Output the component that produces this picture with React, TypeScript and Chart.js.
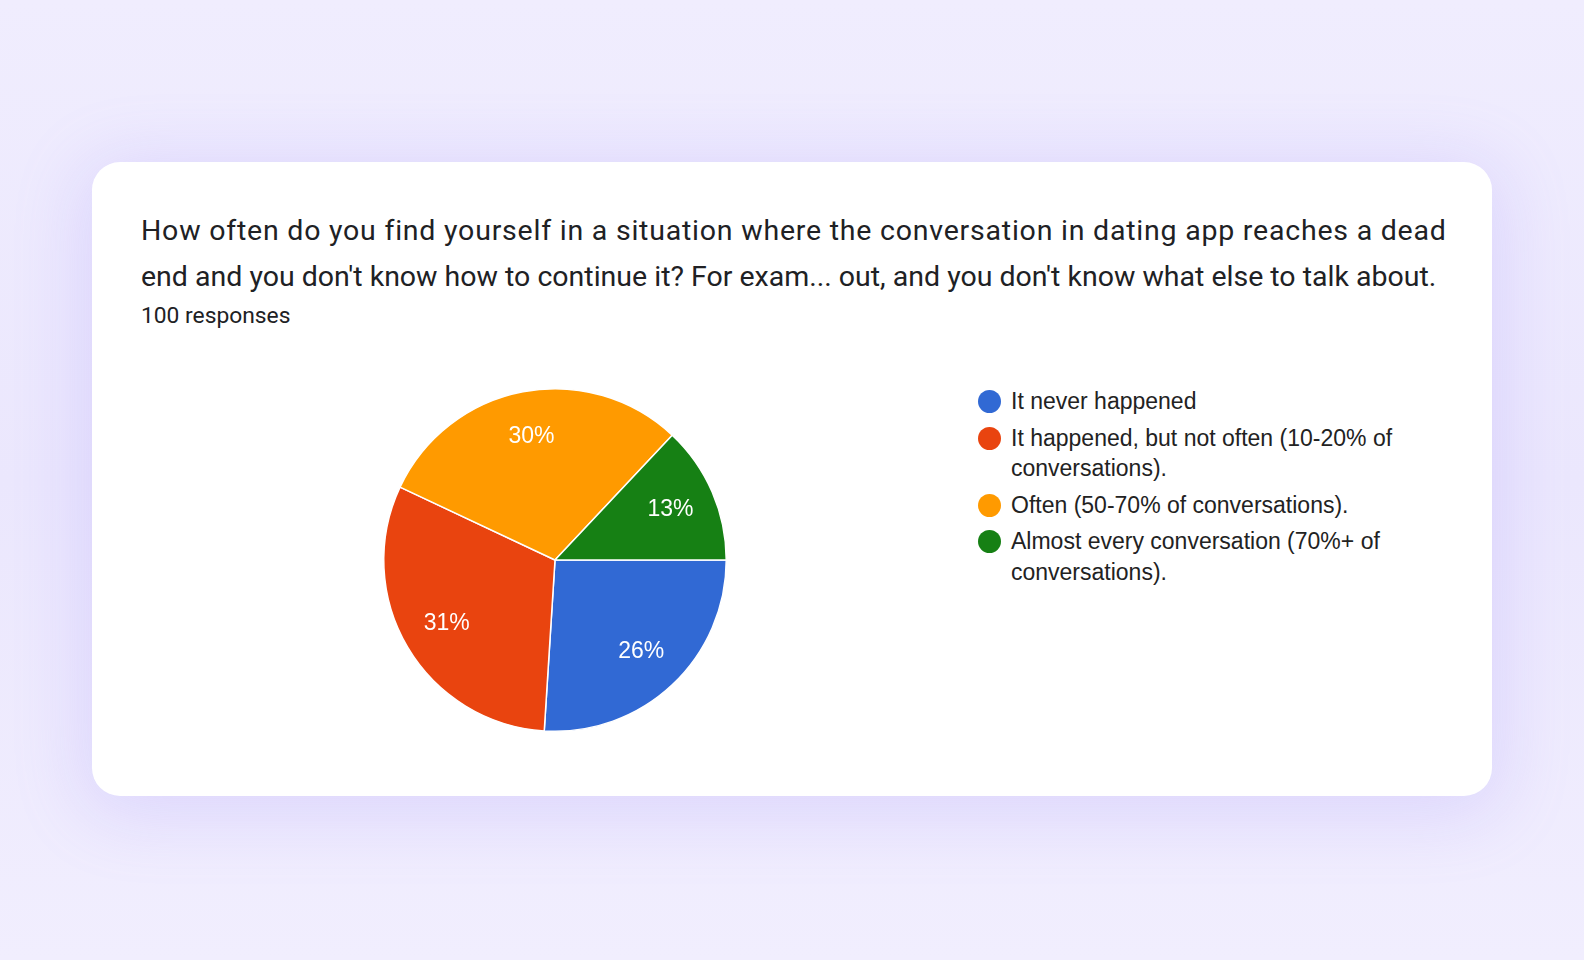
import React, { useEffect, useRef } from "react";
import { Chart, registerables } from "chart.js";

Chart.register(...registerables);

const titleLines: string[] = [
  "How often do you find yourself in a situation where the conversation in dating app reaches a dead",
  "end and you don't know how to continue it? For exam... out, and you don't know what else to talk about.",
];
const responsesText = "100 responses";
const categories: string[] = [
  "It never happened",
  "It happened, but not often (10-20% of conversations).",
  "Often (50-70% of conversations).",
  "Almost every conversation (70%+ of conversations).",
];
const values: number[] = [26, 31, 30, 13];
const colors: string[] = ["#3169d4", "#e9440f", "#ff9a00", "#168014"];

const sliceLabels = {
  id: "sliceLabels",
  afterDatasetsDraw(chart: any) {
    const ctx = chart.ctx;
    const meta = chart.getDatasetMeta(0);
    const data = chart.data.datasets[0].data as number[];
    const total = data.reduce((a: number, b: number) => a + b, 0);
    ctx.save();
    ctx.fillStyle = "#ffffff";
    ctx.font = "23px 'Liberation Sans', Arial, sans-serif";
    ctx.textAlign = "center";
    ctx.textBaseline = "middle";
    meta.data.forEach((arc: any, i: number) => {
      const { x, y, startAngle, endAngle, outerRadius } = arc.getProps(
        ["x", "y", "startAngle", "endAngle", "outerRadius"],
        true
      );
      const mid = (startAngle + endAngle) / 2;
      const r = outerRadius * 0.735;
      const pct = Math.round((data[i] / total) * 100) + "%";
      ctx.fillText(pct, x + Math.cos(mid) * r, y + Math.sin(mid) * r);
    });
    ctx.restore();
  },
};

export default function App() {
  const canvasRef = useRef<HTMLCanvasElement | null>(null);

  useEffect(() => {
    if (!canvasRef.current) return;
    const chart = new Chart(canvasRef.current, {
      type: "pie",
      data: {
        labels: categories,
        datasets: [
          {
            data: values,
            backgroundColor: colors,
            borderColor: "#ffffff",
            borderWidth: 1.5,
          },
        ],
      },
      options: {
        animation: false,
        responsive: false,
        rotation: 90,
        layout: { padding: 28 },
        plugins: {
          legend: { display: false },
          tooltip: { enabled: false },
        },
      },
      plugins: [sliceLabels],
    });
    return () => chart.destroy();
  }, []);

  return (
    <div
      style={{
        position: "fixed",
        left: 0,
        top: 0,
        width: 1584,
        height: 960,
        background: "linear-gradient(180deg, #f0edfe 0%, #ebe7fd 50%, #f1eefe 100%)",
        overflow: "hidden",
      }}
    >
      <div
        style={{
          position: "absolute",
          left: 92,
          top: 162,
          width: 1400,
          height: 634,
          background: "#ffffff",
          borderRadius: 28,
          boxShadow: "0 10px 70px 10px rgba(150,130,250,0.2)",
        }}
      />
      <div
        style={{
          position: "absolute",
          left: 141,
          top: 208,
          fontFamily: "Roboto, sans-serif",
          fontSize: 28.5,
          lineHeight: "45.5px",
          color: "#202124",
          whiteSpace: "nowrap",
        }}
      >
        {titleLines.map((t, i) => (
          <div key={i} style={i === 0 ? { letterSpacing: "0.78px" } : undefined}>
            {t}
          </div>
        ))}
      </div>
      <div
        style={{
          position: "absolute",
          left: 141,
          top: 302,
          fontFamily: "Roboto, sans-serif",
          fontSize: 22.8,
          lineHeight: "28px",
          color: "#202124",
          whiteSpace: "nowrap",
        }}
      >
        {responsesText}
      </div>
      <canvas
        ref={canvasRef}
        width={400}
        height={400}
        style={{ position: "absolute", left: 355, top: 360, width: 400, height: 400 }}
      />
      <div
        style={{
          position: "absolute",
          left: 978,
          top: 386,
          width: 450,
          fontFamily: "'Liberation Sans', Arial, sans-serif",
          fontSize: 23,
          lineHeight: "30.5px",
          color: "#222222",
        }}
      >
        {categories.map((c, i) => (
          <div key={i} style={{ display: "flex", alignItems: "flex-start", marginBottom: 6 }}>
            <span
              style={{
                flex: "0 0 auto",
                width: 23,
                height: 23,
                borderRadius: "50%",
                background: colors[i],
                marginTop: 4,
                marginRight: 10,
              }}
            />
            <span style={{ width: 405 }}>{c}</span>
          </div>
        ))}
      </div>
    </div>
  );
}
